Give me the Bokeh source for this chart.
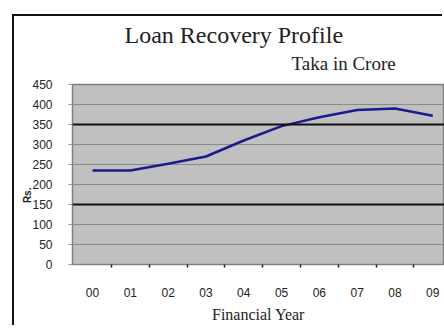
from bokeh.plotting import figure
from bokeh.models import FixedTicker, Span, Title
from bokeh.embed import file_html
from bokeh.resources import INLINE

# ---- data ----
years = ["00", "01", "02", "03", "04", "05", "06", "07", "08", "09"]
recovery = [235, 235, 252, 270, 310, 346, 368, 386, 390, 372]
y_ticks = [0, 50, 100, 150, 200, 250, 300, 350, 400, 450]
ref_lines = [150, 350]

xs = list(range(len(years)))

p = figure(width=430, height=311, output_backend="svg", toolbar_location=None,
           x_range=(-0.53, 9.31), y_range=(0, 450),
           min_border_left=58, min_border_right=0, min_border_top=68, min_border_bottom=63,
           margin=(16, 0, 0, 14),
           styles={"box-shadow": "-2px -2px 0px 0px #111111"})
p.background_fill_color = "#c0c0c0"
p.border_fill_color = "white"
p.outline_line_color = "#808080"
p.outline_line_width = 1.5

p.xgrid.visible = False
p.ygrid.ticker = FixedTicker(ticks=y_ticks)
p.ygrid.grid_line_color = "#8a8a8a"
p.ygrid.grid_line_width = 1

# y axis
p.yaxis.ticker = FixedTicker(ticks=y_ticks)
p.yaxis.axis_line_color = None
p.yaxis.major_tick_line_color = "#999999"
p.yaxis.major_tick_out = 4
p.yaxis.major_tick_in = 0
p.yaxis.minor_tick_line_color = None
p.yaxis.major_label_text_font = "Liberation Sans"
p.yaxis.major_label_text_font_size = "12px"
p.yaxis.major_label_text_color = "#222222"
p.yaxis.major_label_standoff = 16
p.yaxis.axis_label = "Rs.\u00a0\u00a0\u00a0\u00a0\u00a0\u00a0\u00a0\u00a0\u00a0\u00a0\u00a0\u00a0\u00a0\u00a0\u00a0"
p.yaxis.axis_label_text_font = "Liberation Sans"
p.yaxis.axis_label_text_font_style = "bold"
p.yaxis.axis_label_text_font_size = "10px"
p.yaxis.axis_label_text_color = "#222222"
p.yaxis.axis_label_standoff = -4

# x axis
p.xaxis.ticker = FixedTicker(ticks=xs, minor_ticks=[i + 0.5 for i in range(len(years) - 1)])
p.xaxis.major_label_overrides = {i: y for i, y in enumerate(years)}
p.xaxis.axis_line_color = "#808080"
p.xaxis.major_tick_line_color = None
p.xaxis.minor_tick_line_color = "#222222"
p.xaxis.minor_tick_line_width = 1.5
p.xaxis.minor_tick_out = 3
p.xaxis.minor_tick_in = 0
p.xaxis.major_label_text_font = "Liberation Sans"
p.xaxis.major_label_text_font_size = "12px"
p.xaxis.major_label_text_color = "#222222"
p.xaxis.major_label_standoff = 17
p.xaxis.axis_label = "Financial Year"
p.xaxis.axis_label_text_font = "Liberation Serif"
p.xaxis.axis_label_text_font_style = "normal"
p.xaxis.axis_label_text_font_size = "16px"
p.xaxis.axis_label_text_color = "#222222"
p.xaxis.axis_label_standoff = 6

for v in ref_lines:
    p.add_layout(Span(location=v, dimension="width", line_color="#111111", line_width=2.2))

p.line(xs, recovery, line_color="#1c1a8c", line_width=2.5)

# titles (subtitle first: it sits closest to the frame)
p.add_layout(Title(text="Taka in Crore", text_font="Liberation Serif",
                   text_font_size="19px", text_font_style="normal",
                   text_color="#222222", align="left", offset=219, standoff=21), "above")
p.add_layout(Title(text="Loan Recovery Profile", text_font="Liberation Serif",
                   text_font_size="24px", text_font_style="normal",
                   text_color="#222222", align="left", offset=52, standoff=-15), "above")

open("out.html", "w").write(file_html(p, INLINE))
